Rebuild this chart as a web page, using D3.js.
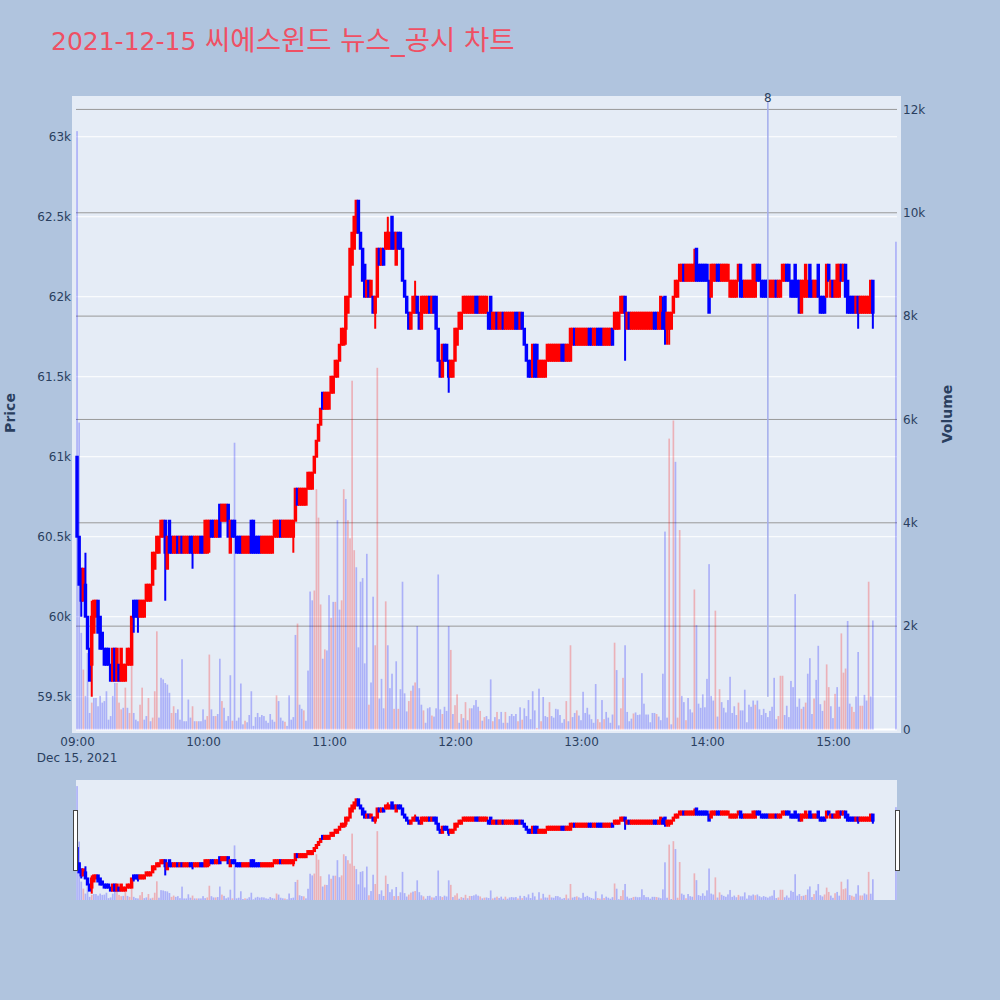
<!DOCTYPE html>
<html><head><meta charset="utf-8">
<script src="https://cdn.jsdelivr.net/npm/d3@7"></script>
<style>body{margin:0;background:#b0c4de;} svg{display:block}</style>
</head><body>
<svg id="c" width="1000" height="1000"></svg>
<script>
// ---------------- DATA ----------------
const titleDate = "2021-12-15";
const titleText = " 씨에스윈드 뉴스_공시 차트";
const sessionDate = "2021-12-15";
// 1-minute bars 09:00 ... 15:19, then the 15:30 closing auction bar
const openPrice = [
61000,60500,60300,60100,60200,60000,59800,59700,59900,60000,
60100,60000,59900,59800,59800,59800,59700,59600,59800,59600,
59700,59600,59600,59600,59700,59700,59700,60100,60100,60100,
60000,60000,60000,60100,60100,60100,60200,60300,60400,60400,
60500,60500,60600,60300,60600,60500,60400,60400,60500,60400,
60500,60400,60400,60400,60500,60500,60400,60400,60400,60500,
60500,60400,60400,60500,60600,60600,60500,60500,60700,60600,
60600,60600,60700,60400,60600,60600,60500,60500,60500,60400,
60400,60400,60400,60600,60600,60500,60500,60500,60400,60400,
60400,60400,60400,60400,60500,60500,60500,60600,60500,60500,
60500,60500,60500,60500,60600,60800,60700,60700,60700,60700,
60800,60800,60800,60900,61000,61100,61200,61400,61300,61300,
61300,61400,61400,61500,61500,61600,61700,61700,61800,61900,
62000,62200,62300,62400,62600,62400,62300,62200,62000,62100,
62000,62000,61900,62000,62300,62200,62300,62300,62300,62300,
62500,62400,62200,62400,62400,62300,62100,62000,61900,61800,
61900,61900,62000,61900,61800,61900,61900,61900,62000,61900,
62000,62000,61800,61600,61500,61700,61700,61600,61500,61500,
61600,61700,61800,61800,61900,61900,61900,61900,61900,61900,
62000,62000,61900,61900,61900,61900,61900,62000,61800,61800,
61900,61800,61800,61900,61800,61800,61800,61800,61800,61900,
61900,61800,61900,61800,61700,61600,61600,61500,61700,61700,
61500,61500,61500,61500,61600,61600,61600,61600,61600,61600,
61600,61700,61700,61600,61600,61600,61700,61800,61700,61700,
61700,61700,61700,61700,61800,61800,61700,61700,61800,61800,
61800,61700,61700,61700,61700,61800,61800,61800,61800,61900,
61900,62000,61800,61900,61800,61800,61800,61800,61800,61800,
61800,61800,61800,61800,61800,61900,61900,61800,61800,61900,
62000,61800,61800,61800,61900,62000,62000,62100,62100,62200,
62100,62100,62100,62100,62100,62300,62200,62200,62200,62200,
62200,62100,62000,62100,62100,62200,62200,62100,62100,62100,
62100,62000,62000,62000,62000,62100,62200,62100,62000,62000,
62000,62000,62000,62000,62200,62200,62100,62100,62100,62100,
62000,62000,62000,62100,62000,62000,62100,62100,62200,62200,
62100,62100,62200,62100,62100,61900,62000,62000,62000,62200,
62100,62000,62000,62200,62000,62000,62000,62000,62200,62000,
62100,62000,62000,62000,62200,62100,62200,62100,62000,62000,
62000,61900,62000,61900,61900,61900,61900,61900,61900,62100,
61800];
const closePrice = [
60500,60200,60100,60300,60000,59800,59600,60000,60100,60100,
59900,59800,59800,59700,59700,59700,59600,59800,59600,59800,
59600,59800,59700,59700,59800,59800,60000,60000,60000,60000,
60100,60100,60100,60200,60200,60200,60400,60400,60500,60500,
60600,60600,60400,60500,60400,60400,60500,60500,60400,60500,
60400,60500,60500,60500,60400,60400,60500,60500,60500,60400,
60400,60600,60600,60600,60500,60500,60600,60600,60500,60700,
60700,60700,60500,60600,60500,60500,60400,60400,60400,60500,
60500,60500,60500,60400,60400,60400,60400,60400,60500,60500,
60500,60500,60500,60500,60600,60600,60600,60500,60600,60600,
60600,60600,60600,60600,60800,60700,60800,60800,60800,60800,
60900,60900,60900,61000,61100,61200,61300,61300,61400,61400,
61400,61500,61500,61600,61600,61700,61800,61800,62000,62000,
62300,62400,62500,62600,62400,62300,62100,62000,62100,62000,
62100,61900,62000,62300,62200,62300,62200,62400,62400,62400,
62300,62300,62400,62300,62300,62100,62000,61900,61800,61900,
62000,62000,61900,61800,62000,62000,62000,62000,61900,62000,
61900,61800,61600,61500,61700,61600,61600,61500,61600,61600,
61800,61800,61900,61900,62000,62000,62000,62000,62000,62000,
61900,61900,62000,62000,62000,62000,61800,61800,61900,61900,
61800,61900,61900,61800,61900,61900,61900,61900,61900,61800,
61800,61900,61800,61700,61600,61500,61500,61700,61500,61500,
61600,61600,61600,61600,61700,61700,61700,61700,61700,61700,
61700,61600,61600,61700,61700,61800,61800,61700,61800,61800,
61800,61800,61800,61800,61700,61700,61800,61800,61700,61700,
61700,61800,61800,61800,61800,61700,61900,61900,61900,62000,
62000,61900,61900,61800,61900,61900,61900,61900,61900,61900,
61900,61900,61900,61900,61900,61800,61800,61900,62000,61800,
61800,61900,61900,61900,62000,62100,62100,62200,62200,62100,
62200,62200,62200,62200,62200,62100,62100,62100,62100,62100,
62100,61900,62200,62200,62200,62100,62100,62200,62200,62200,
62200,62100,62100,62100,62100,62200,62000,62000,62100,62100,
62100,62100,62200,62200,62100,62100,62000,62000,62000,62000,
62100,62100,62100,62000,62100,62100,62200,62200,62100,62100,
62000,62000,62000,62000,61900,62100,62100,62200,62100,62000,
62000,62100,62100,62000,61900,61900,61900,62200,62100,62100,
62000,62100,62200,62200,62100,62200,62000,61900,61900,61900,
61900,62000,61900,62000,62000,62000,62000,62000,62100,61900,
61800];
// wicks reaching beyond the body: [time, price]
const highWicks = [["09:04",60400],["09:07",60100],["11:28",62500],["11:41",62100],["13:39",62000],["13:54",62300]];
const lowWicks = [["09:02",60000],["09:07",59500],["09:27",59900],["09:29",59900],["09:42",60100],["09:55",60300],
  ["10:03",60400],["10:43",60400],["11:08",61700],["11:22",61800],["11:57",61400],["13:21",61600],
  ["13:40",61700],["13:41",61700],["13:42",61700],["15:12",61800],["15:19",61800]];
const volume = [
11580,5940,1870,1160,650,1480,320,520,610,610,
450,650,520,550,740,190,260,650,900,900,
520,390,420,810,420,320,1390,320,190,160,
480,810,190,260,610,160,230,740,1900,230,
1000,970,900,870,710,320,450,320,390,190,
1360,160,160,580,230,450,160,160,160,160,
390,190,260,1450,390,260,260,300,1370,550,
420,170,260,1050,170,5550,170,230,890,100,
170,140,280,740,70,240,320,240,280,260,
170,130,300,190,150,660,550,230,170,150,
70,660,190,240,1830,2050,480,400,370,170,
1140,2670,2500,2690,4650,4100,2420,1370,1550,1530,
2600,2160,2470,2470,4050,2320,2500,4650,4460,4050,
3700,6750,3470,3140,1590,2860,2930,1280,3400,480,
910,2570,1630,7000,600,980,410,2480,1630,800,
1080,400,1320,400,780,2860,700,350,550,750,
850,910,2000,800,480,370,130,410,430,270,
250,410,3000,390,300,440,360,2000,1540,300,
470,680,130,300,220,530,180,410,410,470,
570,440,360,170,240,260,200,970,160,240,
340,200,340,130,340,130,260,300,260,300,
160,430,190,410,260,570,200,740,370,30,
790,160,630,260,240,530,260,230,400,390,
280,130,200,550,160,1630,240,320,370,270,
180,730,320,420,290,200,130,880,200,140,
570,200,340,230,130,290,1680,1150,80,410,
1000,1630,340,160,210,310,330,280,290,1090,
500,290,290,140,320,320,300,250,180,1080,
3830,230,5630,100,5980,5180,230,3860,650,530,
180,610,390,330,2710,2020,500,420,680,430,
980,3200,650,560,2300,250,780,530,420,330,
570,1020,320,450,280,520,370,370,770,140,
480,440,560,480,560,390,280,400,320,240,
360,440,1000,200,260,1040,1040,280,460,240,
940,820,2620,440,600,400,440,520,1080,1380,
300,600,960,1620,490,360,560,1260,820,450,
220,690,820,440,1860,1100,1180,2100,500,440,
340,640,1500,460,460,670,560,2860,640,2110,
9440];
// minutes whose volume bar is drawn in the "up" (red) colour
const volumeUpTimes = ["09:03","09:07","09:19","09:20","09:21","09:23","09:25","09:26","09:30","09:31","09:34","09:36","09:37","09:38",
 "09:45","09:46","09:55","09:57","10:02","10:03","10:06","10:09","10:14","10:20","10:35","10:39","10:45","10:48","10:53","10:54",
 "10:55","10:56","10:58","11:01","11:03","11:06","11:07","11:09","11:10","11:11","11:12","11:19","11:22","11:23","11:27","11:31",
 "11:33","11:38","11:39","11:41","11:45","11:49","11:54","11:58","12:00","12:01","12:03","12:05","12:07","12:12","12:14","12:18",
 "12:20","12:24","12:30","12:32","12:39","12:41","12:45","12:53","12:55","12:58","13:08","13:09","13:11","13:16","13:19","13:20",
 "13:25","13:36","13:42","13:44","13:46","13:47","13:50","13:54","14:04","14:06","14:15","14:23","14:34","14:35","14:36","14:45",
 "14:47","14:51","14:56","14:57","14:58","15:01","15:04","15:05","15:06","15:09","15:10","15:13","15:14","15:17"];
const priceTicks = [59500,60000,60500,61000,61500,62000,62500,63000];
const volumeTicks = [0,2000,4000,6000,8000,10000,12000];
const timeTicks = ["09:00","10:00","11:00","12:00","13:00","14:00","15:00"];
const newsMarks = [{time:"14:29", label:"8", price:59500}];

// ---------------- LAYOUT ----------------
const FONT = "'DejaVu Sans', 'Noto Sans CJK KR', sans-serif";
const TXT = "#2a3f5f";
const UP = "#ff0000", DOWN = "#0000ff";
const svg = d3.select("#c");
const parse = d3.timeParse("%Y-%m-%d %H:%M");
const T = s => parse(sessionDate + " " + s);
const times = d3.timeMinute.range(T("09:00"), T("15:20")).concat([T("15:30")]);
const fmtHM = d3.timeFormat("%H:%M");
const idx = new Map(times.map((t,i)=>[fmtHM(t), i]));
const hiMap = new Map(highWicks.map(d=>[idx.get(d[0]), d[1]]));
const loMap = new Map(lowWicks.map(d=>[idx.get(d[0]), d[1]]));
const upSet = new Set(volumeUpTimes.map(s=>idx.get(s)));

const bars = times.map((t,i)=>{
  const o=openPrice[i], c=closePrice[i];
  return {t, o, c, h: Math.max(o,c,hiMap.get(i)||0), l: Math.min(o,c,loMap.get(i)||1e9), v: volume[i], up: upSet.has(i)};
});
bars.forEach((d,i)=>{
  if (d.c>d.o) d.dir=1; else if (d.c<d.o) d.dir=-1;
  else { const pc = i>0?bars[i-1].c:d.c; d.dir = d.c>pc?1:(d.c<pc?-1:(i>0?bars[i-1].dir:1)); }
});

const x0 = d3.timeSecond.offset(T("09:00"), -30), x1 = d3.timeSecond.offset(T("15:30"), 30);
const x = d3.scaleTime().domain([x0,x1]).range([76,897]);
const yP = d3.scaleLinear().domain([59292,63236]).range([730,99]);
const yV = d3.scaleLinear().domain([0,12200]).range([729.5,99.1]);
const step = x(T("09:01")) - x(T("09:00"));

svg.append("rect").attr("width",1000).attr("height",1000).attr("fill","#b0c4de");
svg.append("rect").attr("x",72).attr("y",96).attr("width",829).attr("height",637).attr("fill","#e5ecf6");

const grid = svg.append("g");
grid.selectAll(".pg").data(priceTicks).join("line")
  .attr("x1",76).attr("x2",897).attr("y1",d=>yP(d)).attr("y2",d=>yP(d))
  .attr("stroke","#fff").attr("stroke-width",1);
grid.selectAll(".vg").data(volumeTicks.filter(d=>d>0)).join("line")
  .attr("x1",76).attr("x2",897).attr("y1",d=>yV(d)).attr("y2",d=>yV(d))
  .attr("stroke","#999").attr("stroke-width",1);
grid.append("line").attr("x1",76).attr("x2",897).attr("y1",yV(0)).attr("y2",yV(0))
  .attr("stroke","#fff").attr("stroke-width",2);

function drawVolume(g, xs, ys){
  const bw = step*0.8;
  g.selectAll("rect").data(bars).join("rect")
    .attr("x",d=>xs(d.t)-bw/2).attr("width",bw)
    .attr("y",d=>ys(d.v)).attr("height",d=>Math.max(0,ys(0)-ys(d.v)))
    .attr("fill",d=>d.up?UP:DOWN).attr("fill-opacity",0.25);
}
function drawCandles(g, xs, ys){
  const bw = step*0.7;
  const c = g.selectAll("g").data(bars).join("g");
  c.append("line").attr("x1",d=>xs(d.t)).attr("x2",d=>xs(d.t))
    .attr("y1",d=>ys(d.h)).attr("y2",d=>ys(d.l))
    .attr("stroke",d=>d.dir>0?UP:DOWN).attr("stroke-width",2);
  c.append("rect").attr("x",d=>xs(d.t)-bw/2).attr("width",bw)
    .attr("y",d=>ys(Math.max(d.o,d.c))).attr("height",d=>Math.abs(ys(d.o)-ys(d.c)))
    .attr("fill",d=>d.dir>0?UP:DOWN).attr("stroke",d=>d.dir>0?UP:DOWN).attr("stroke-width",2);
}
drawVolume(svg.append("g"), x, yV);
drawCandles(svg.append("g"), x, yP);

const nm = svg.append("g");
newsMarks.forEach(n=>{
  const xx = x(T(n.time));
  nm.append("line").attr("x1",xx).attr("x2",xx).attr("y1",yP(n.price)).attr("y2",102)
    .attr("stroke","#a3acec").attr("stroke-width",1.5);
  nm.append("text").attr("x",xx).attr("y",101.5).attr("text-anchor","middle")
    .attr("font-family",FONT).attr("font-size",12).attr("fill",TXT).text(n.label);
});

const ax = svg.append("g").attr("transform","translate(0,733)")
  .call(d3.axisBottom(x).tickValues(timeTicks.map(T)).tickFormat(fmtHM).tickSize(0).tickPadding(4.5));
const ayl = svg.append("g").attr("transform","translate(74,0)")
  .call(d3.axisLeft(yP).tickValues(priceTicks).tickFormat(d=>(d/1000)+"k").tickSize(0).tickPadding(3));
const ayr = svg.append("g").attr("transform","translate(900,0)")
  .call(d3.axisRight(yV).tickValues(volumeTicks).tickFormat(d=>d===0?"0":(d/1000)+"k").tickSize(0).tickPadding(3));
[ax,ayl,ayr].forEach(a=>{
  a.select(".domain").remove();
  a.selectAll("text").attr("font-family",FONT).attr("font-size",12).attr("fill",TXT);
});
svg.append("text").attr("x",x(T("09:00"))).attr("y",762).attr("text-anchor","middle")
  .attr("font-family",FONT).attr("font-size",12).attr("fill",TXT).text(d3.timeFormat("%b %-d, %Y")(T("09:00")));

svg.append("text").attr("transform","translate(9.5,413) rotate(-90)").attr("text-anchor","middle")
  .attr("dominant-baseline","central").attr("font-family",FONT).attr("font-size",14).attr("font-weight","bold")
  .attr("fill",TXT).text("Price");
svg.append("text").attr("transform","translate(946.5,414) rotate(-90)").attr("text-anchor","middle")
  .attr("dominant-baseline","central").attr("font-family",FONT).attr("font-size",14).attr("font-weight","bold")
  .attr("fill",TXT).text("Volume");

const tt = svg.append("text").attr("x",51).attr("y",50).attr("font-family",FONT).attr("fill","#ef5064");
tt.append("tspan").attr("font-size",25).text(titleDate);
tt.append("tspan").attr("font-size",27.5).text(titleText);

const rs = svg.append("g");
rs.append("rect").attr("x",76).attr("y",780).attr("width",821).attr("height",120).attr("fill","#e5ecf6");
const yPs = d3.scaleLinear().domain(yP.domain()).range([900,780]);
const yVs = d3.scaleLinear().domain(yV.domain()).range([900,780]);
drawVolume(rs.append("g"), x, yVs);
drawCandles(rs.append("g"), x, yPs);
[73.5, 895.5].forEach(hx=>{
  rs.append("rect").attr("x",hx).attr("y",810.5).attr("width",4).attr("height",60)
    .attr("fill","#fff").attr("stroke","#444").attr("stroke-width",1);
});
</script>
</body></html>
